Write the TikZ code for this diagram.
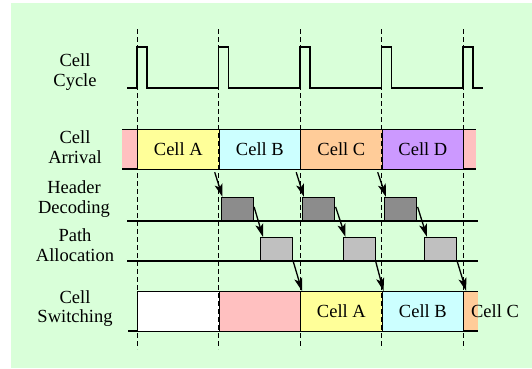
\documentclass[tikz,border=0pt]{standalone}
\usepackage{fontspec}
\setmainfont{Liberation Serif}
\usetikzlibrary{arrows.meta,calc}
\definecolor{bggreen}{RGB}{217,255,217}
\definecolor{cyellow}{RGB}{255,255,153}
\definecolor{ccyan}{RGB}{204,255,255}
\definecolor{corange}{RGB}{255,204,153}
\definecolor{cpurple}{RGB}{204,153,255}
\definecolor{cpink}{RGB}{255,192,192}
\definecolor{dgray}{RGB}{140,140,140}
\definecolor{lgray}{RGB}{192,192,192}
\begin{document}
\begin{tikzpicture}[x=1pt,y=-1pt,
  every node/.style={font=\fontsize{18.5}{19.5}\selectfont},
  lbl/.style={align=center},
  cellbox/.style={draw=black,line width=1.2pt,minimum width=81.5pt,minimum height=40pt,inner sep=0pt,anchor=north west},
  hdbox/.style={draw=black,fill=dgray,line width=1.1pt,minimum width=32pt,minimum height=23pt,inner sep=0pt,anchor=south west},
  pabox/.style={draw=black,fill=lgray,line width=1.1pt,minimum width=32pt,minimum height=23pt,inner sep=0pt,anchor=south west},
  guide/.style={dash pattern=on 5pt off 3pt,line width=1pt},
  track/.style={line width=1.4pt},
  wave/.style={line width=1.2pt},
  arr/.style={-{Stealth[length=13pt,width=8pt,inset=3pt]},line width=1.3pt}
]
\useasboundingbox (0,0) rectangle (532,368);
\fill[bggreen] (11,3) rectangle (532,368);

% labels
\node[lbl] (lcyc) at (75,72) {Cell\\Cycle};
\node[lbl] (larr) at (75,147) {Cell\\Arrival};
\node[lbl] (lhd) at (74,199) {Header\\Decoding};
\node[lbl] (lpa) at (75,245) {Path\\Allocation};
\node[lbl] (lsw) at (75,308.5) {Cell\\Switching};

% cell cycle waveform
\draw[wave] (127,88) -- (137,88) -- (137,47) -- (147,47) -- (147,88)
  -- (218.5,88) -- (218.5,47) -- (228.5,47) -- (228.5,88)
  -- (300,88) -- (300,47) -- (310,47) -- (310,88)
  -- (381.5,88) -- (381.5,47) -- (391.5,47) -- (391.5,88)
  -- (463,88) -- (463,47) -- (473,47) -- (473,88) -- (483,88);

% cell arrival row
\fill[cpink] (122,129) rectangle (137,169);
\fill[cpink] (463,129) rectangle (476,169);
\draw[line width=0.8pt] (122,129) -- (476,129);
\draw[track] (122,169) -- (476,169);
\node[cellbox,fill=cyellow] (aA) at (137,129) {Cell A};
\node[cellbox,fill=ccyan] (aB) at (218.5,129) {Cell B};
\node[cellbox,fill=corange] (aC) at (300,129) {Cell C};
\node[cellbox,fill=cpurple] (aD) at (381.5,129) {Cell D};

% header decoding row
\draw[track] (127,221) -- (478,221);
\node[hdbox] (hd1) at (220.5,221) {};
\node[hdbox] (hd2) at (302,221) {};
\node[hdbox] (hd3) at (384,221) {};

% path allocation row
\draw[track] (127,261) -- (478,261);
\node[pabox] (pa1) at (260,261) {};
\node[pabox] (pa2) at (342.5,261) {};
\node[pabox] (pa3) at (424,261) {};

% cell switching row
\fill[corange] (463,291) rectangle (478,331);
\draw[line width=0.8pt] (463,291) -- (478,291);
\draw[track] (128,331) -- (478,331);
\node[cellbox,fill=white] (sW) at (137,291) {};
\node[cellbox,fill=cpink] (sP) at (218.5,291) {};
\node[cellbox,fill=cyellow] (sA) at (300,291) {Cell A};
\node[cellbox,fill=ccyan] (sB) at (381.5,291) {Cell B};
\node (sC) at (495,311) {Cell C};

% guides
\foreach \x in {137,218.5,300,381.5,463}
  \draw[guide] (\x,29) -- (\x,349);

% arrows
\draw[arr] ($(aA.south east)+(-5,2)$) -- ($(hd1.north west)+(2,0)$);
\draw[arr] ($(aB.south east)+(-5,2)$) -- ($(hd2.north west)+(2,0)$);
\draw[arr] ($(aC.south east)+(-5,2)$) -- ($(hd3.north west)+(2,0)$);
\draw[arr] ($(hd1.north east)+(0.5,10)$) -- ($(pa1.north west)+(3,0)$);
\draw[arr] ($(hd2.north east)+(0.5,10)$) -- ($(pa2.north west)+(3,0)$);
\draw[arr] ($(hd3.north east)+(0.5,10)$) -- ($(pa3.north west)+(3,0)$);
\draw[arr] (pa1.south east) -- ($(sA.north west)+(2,0)$);
\draw[arr] (pa2.south east) -- ($(sB.north west)+(2,0)$);
\draw[arr] (pa3.south east) -- ($(sB.north east)+(2,0)$);
\end{tikzpicture}
\end{document}
